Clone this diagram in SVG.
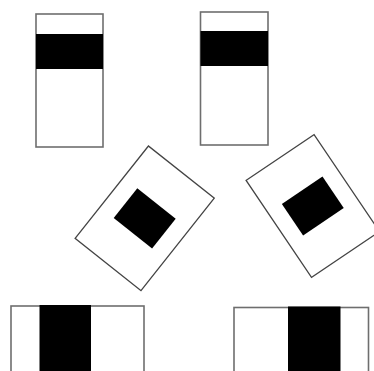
<svg xmlns="http://www.w3.org/2000/svg" width="374" height="371" viewBox="0 0 374 371">
<style>
.frame{fill:#fff;stroke:#6e6e6e;stroke-width:1.6}
.frame2{fill:#fff;stroke:#444;stroke-width:1.3}
.band{fill:#000}
</style>
<rect width="374" height="371" fill="#fff"/>
<g id="card-top-left">
<rect class="frame" x="36" y="14" width="67" height="133"/>
<rect class="band" x="36" y="34" width="67" height="35"/>
</g>
<g id="card-top-right">
<rect class="frame" x="200.5" y="12" width="67.5" height="133"/>
<rect class="band" x="200.5" y="31" width="67.5" height="35"/>
</g>
<g id="card-mid-left" transform="translate(144.7 218.3) rotate(38.4)">
<rect class="frame2" x="-42" y="-59" width="84" height="118"/>
<rect class="band" x="-24.5" y="-19" width="49" height="38"/>
</g>
<g id="card-mid-right" transform="translate(312.8 206) rotate(-34)">
<rect class="frame2" x="-41" y="-58.5" width="82" height="117"/>
<rect class="band" x="-24.5" y="-19" width="49" height="38"/>
</g>
<g id="card-bottom-left">
<rect class="frame" x="11" y="306" width="133" height="67"/>
<rect class="band" x="39.5" y="305" width="51.5" height="68"/>
</g>
<g id="card-bottom-right">
<rect class="frame" x="234" y="307.5" width="134.5" height="67"/>
<rect class="band" x="288" y="306.5" width="52.5" height="68"/>
</g>
</svg>
